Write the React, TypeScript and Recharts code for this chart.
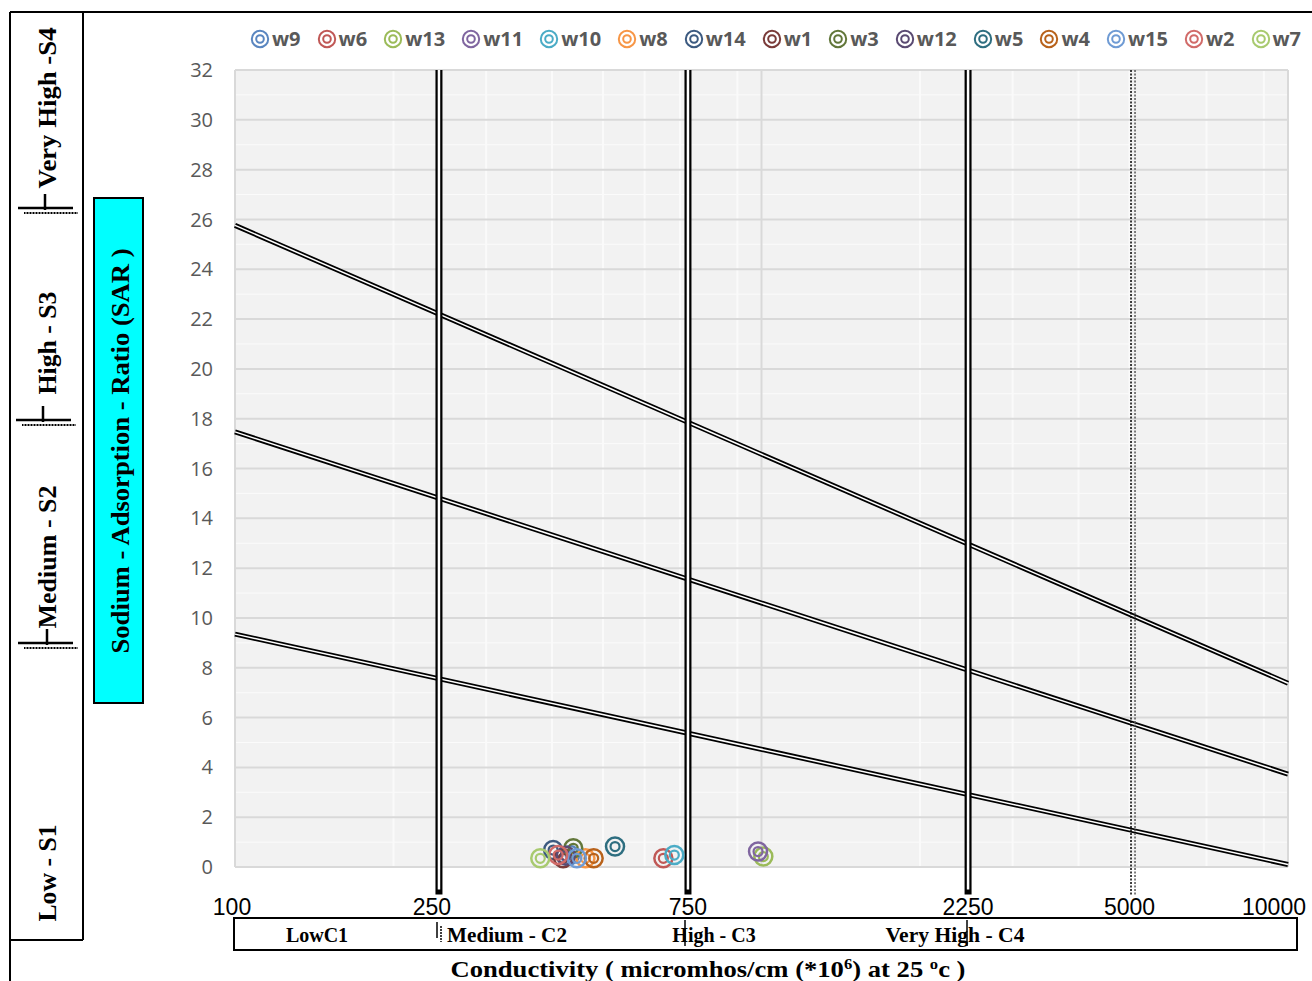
import React from "react"
import { ComposedChart, Scatter, XAxis, YAxis, CartesianGrid, ReferenceLine, Legend } from "recharts"

// water samples
const seriesNames = ["w9", "w6", "w13", "w11", "w10", "w8", "w14", "w1", "w3", "w12", "w5", "w4", "w15", "w2", "w7"]
const seriesColors = [
  "#5A86C0", "#C05856", "#9BBB59", "#8066A0", "#4BACC6", "#F79646", "#3C5A80", "#7A3B39",
  "#62773A", "#5A4A72", "#2E6E80", "#B8621B", "#6F9BD4", "#D16B69", "#A8CA6F",
]
const ecValues = [433, 651, 1008, 985, 683, 463, 402, 420, 439, 425, 527, 480, 446, 411, 380]
const sarValues = [0.48, 0.35, 0.42, 0.62, 0.48, 0.35, 0.68, 0.35, 0.75, 0.45, 0.82, 0.35, 0.35, 0.48, 0.35]

// sodium hazard boundaries (SAR at EC = 100 and EC = 10000)
const sarAtLow = [25.76, 17.47, 9.35]
const sarAtHigh = [7.38, 3.73, 0.1]

// salinity class boundaries
const ecBounds = [244, 725, 2468]
const ecDotted = [5033, 5122]

const xTickValues = [100, 244, 725, 2468, 5000, 10000]
const xTickLabels = ["100", "250", "750", "2250", "5000", "10000"]
const yTicks = [0, 2, 4, 6, 8, 10, 12, 14, 16, 18, 20, 22, 24, 26, 28, 30, 32]

const minorY = Array.from({ length: 129 }, (_, i) => i * 0.25)
const gridX = [200, 300, 400, 500, 600, 700, 800, 900, 2000, 3000, 4000, 5000, 6000, 7000, 8000, 9000]

const serif = "'Liberation Serif', 'Times New Roman', serif"

const ring = (color: string) => (props: any) => (
  <g>
    <circle cx={props.cx} cy={props.cy} r={9} fill="none" stroke={color} strokeWidth={2.5} />
    <circle cx={props.cx} cy={props.cy} r={4.5} fill="none" stroke={color} strokeWidth={2.2} />
  </g>
)

const LegendRow = () => (
  <div style={{ display: "flex", gap: 16, fontFamily: "'Open Sans', sans-serif", fontWeight: 700, fontSize: 20, color: "#595959", lineHeight: "24px" }}>
    {seriesNames.map((n, i) => (
      <div key={n} style={{ display: "flex", alignItems: "center", gap: 2 }}>
        <svg width={20} height={20}>
          <circle cx={10} cy={10} r={8.2} fill="none" stroke={seriesColors[i]} strokeWidth={2} />
          <circle cx={10} cy={10} r={3.8} fill="none" stroke={seriesColors[i]} strokeWidth={2} />
        </svg>
        <span>{n}</span>
      </div>
    ))}
  </div>
)

const XTick = (props: any) => {
  const { x, y, payload } = props
  const idx = xTickValues.indexOf(payload.value)
  const shift = payload.value === 10000 ? -14 : payload.value === 244 ? -7 : payload.value === 100 ? -3 : 0
  return (
    <text x={x + shift} y={y + 40} textAnchor="middle" fill="#000"
      style={{ fontFamily: "'Liberation Sans Narrow', 'Arial Narrow', 'Liberation Sans', sans-serif", fontSize: 23 }}>
      {xTickLabels[idx]}
    </text>
  )
}

const RotText = ({ x, y, text, len, size = 25 }: { x: number; y: number; text: string; len: number; size?: number }) => (
  <text x={x} y={y} transform={`rotate(-90 ${x} ${y})`} textAnchor="middle" dominantBaseline="central"
    textLength={len} lengthAdjust="spacingAndGlyphs"
    style={{ fontFamily: serif, fontWeight: 700, fontSize: size }} fill="#000">
    {text}
  </text>
)

const Separator = ({ y, x1, bar }: { y: number; x1: number; bar: number }) => (
  <g stroke="#000">
    <line x1={x1} y1={y} x2={x1 + 55} y2={y} strokeWidth={2.5} />
    <line x1={x1 + 6} y1={y + 5} x2={x1 + 60} y2={y + 5} strokeWidth={2} strokeDasharray="1 0.5" />
    <line x1={bar} y1={y - 14} x2={bar} y2={y + 2} strokeWidth={2.5} />
  </g>
)

export default function App() {
  return (
    <div style={{ position: "absolute", left: 0, top: 0, width: 1312, height: 981, background: "#fff" }}>
      <ComposedChart width={1312} height={981} margin={{ top: 70, right: 24, bottom: 74, left: 195 }}>
        <CartesianGrid fill="#F2F2F2" stroke="#FBFBFB" strokeWidth={1} horizontalValues={minorY} vertical={false} />
        <CartesianGrid stroke="#FAFAFA" strokeWidth={2} horizontal={false} verticalValues={gridX} />
        <CartesianGrid stroke="#D9D9D9" strokeWidth={2} horizontalValues={yTicks} verticalValues={[100, 1000, 10000]} />
        <XAxis dataKey="x" type="number" scale="log" domain={[100, 10000]} ticks={xTickValues}
          axisLine={false} tickLine={false} height={40} tick={<XTick />} allowDataOverflow />
        <YAxis dataKey="y" type="number" domain={[0, 32]} ticks={yTicks} width={40}
          axisLine={false} tickLine={false} tickSize={0} tickMargin={22}
          tick={{ fill: "#595959", fontSize: 20, fontFamily: "'Open Sans', sans-serif" }} />
        <Legend layout="horizontal" verticalAlign="middle" align="center"
          wrapperStyle={{ top: 27, left: 250, width: 1062, height: 24 }} content={() => <LegendRow />} />

        {sarAtLow.map((s, i) => (
          <ReferenceLine key={"db" + i} segment={[{ x: 100, y: s }, { x: 10000, y: sarAtHigh[i] }]}
            stroke="#000" strokeWidth={5} ifOverflow="visible" />
        ))}
        {sarAtLow.map((s, i) => (
          <ReferenceLine key={"dw" + i} segment={[{ x: 100, y: s }, { x: 10000, y: sarAtHigh[i] }]}
            stroke="#fff" strokeWidth={1.5} ifOverflow="visible" />
        ))}
        {ecBounds.map((e) => (
          <ReferenceLine key={"vb" + e} segment={[{ x: e, y: -1.1 }, { x: e, y: 32 }]}
            stroke="#000" strokeWidth={7} ifOverflow="visible" />
        ))}
        {ecBounds.map((e) => (
          <ReferenceLine key={"vw" + e} segment={[{ x: e, y: -0.9 }, { x: e, y: 32 }]}
            stroke="#fff" strokeWidth={2.5} ifOverflow="visible" />
        ))}
        {ecDotted.map((e, i) => (
          <ReferenceLine key={"dot" + e} segment={[{ x: e, y: -1.1 }, { x: e, y: 32 }]}
            stroke={i === 0 ? "#000" : "#555"} strokeWidth={1.5} strokeDasharray="2 1.5" ifOverflow="visible" />
        ))}

        {seriesNames.map((n, i) => (
          <Scatter key={n} name={n} data={[{ x: ecValues[i], y: sarValues[i] }]}
            shape={ring(seriesColors[i])} isAnimationActive={false} />
        ))}
      </ComposedChart>

      <svg width={1312} height={981} style={{ position: "absolute", left: 0, top: 0, pointerEvents: "none" }}>
        {/* table borders on the left */}
        <line x1={10} y1={12} x2={1312} y2={12} stroke="#000" strokeWidth={2} />
        <line x1={10} y1={12} x2={10} y2={981} stroke="#000" strokeWidth={2} />
        <line x1={83} y1={12} x2={83} y2={940} stroke="#000" strokeWidth={2} />
        <line x1={10} y1={940} x2={83} y2={940} stroke="#000" strokeWidth={2} />

        <RotText x={47} y={108} text="Very High -S4" len={161} />
        <RotText x={47} y={343} text="High - S3" len={103} />
        <RotText x={47} y={557} text="Medium - S2" len={143} />
        <RotText x={47} y={873} text="Low - S1" len={97} />
        <Separator y={208} x1={18} bar={45} />
        <Separator y={420} x1={16} bar={43} />
        <Separator y={643} x1={18} bar={47} />

        <rect x={94} y={198} width={49} height={505} fill="#00FFFF" stroke="#000" strokeWidth={2} />
        <RotText x={120} y={451} text="Sodium - Adsorption - Ratio (SAR )" len={405} />

        {/* salinity classes */}
        <rect x={234} y={918} width={1063} height={32} fill="none" stroke="#000" strokeWidth={2} />
        <g style={{ fontFamily: serif, fontWeight: 700, fontSize: 20 }} fill="#000" textAnchor="middle">
          <text x={317} y={942}>LowC1</text>
          <text x={507} y={942} textLength={120} lengthAdjust="spacingAndGlyphs">Medium - C2</text>
          <text x={714} y={942}>High - C3</text>
          <text x={955} y={942} textLength={139} lengthAdjust="spacingAndGlyphs">Very High - C4</text>
        </g>
        <line x1={437} y1={922} x2={437} y2={938} stroke="#000" strokeWidth={1.5} />
        <line x1={441} y1={926} x2={441} y2={942} stroke="#000" strokeWidth={1.5} strokeDasharray="2 1" />
        <line x1={685} y1={920} x2={685} y2={946} stroke="#000" strokeWidth={1.5} />
        <line x1={967} y1={920} x2={967} y2={946} stroke="#000" strokeWidth={1.5} />

        <text x={708} y={977} textAnchor="middle" fill="#000" textLength={515} lengthAdjust="spacingAndGlyphs"
          style={{ fontFamily: serif, fontWeight: 700, fontSize: 24 }}>
          Conductivity ( micromhos/cm (*10<tspan dy={-8} fontSize={15}>6</tspan>
          <tspan dy={8}>) at 25 </tspan>
          <tspan dy={-8} fontSize={15}>o</tspan>
          <tspan dy={8}>c )</tspan>
        </text>
      </svg>
    </div>
  )
}
